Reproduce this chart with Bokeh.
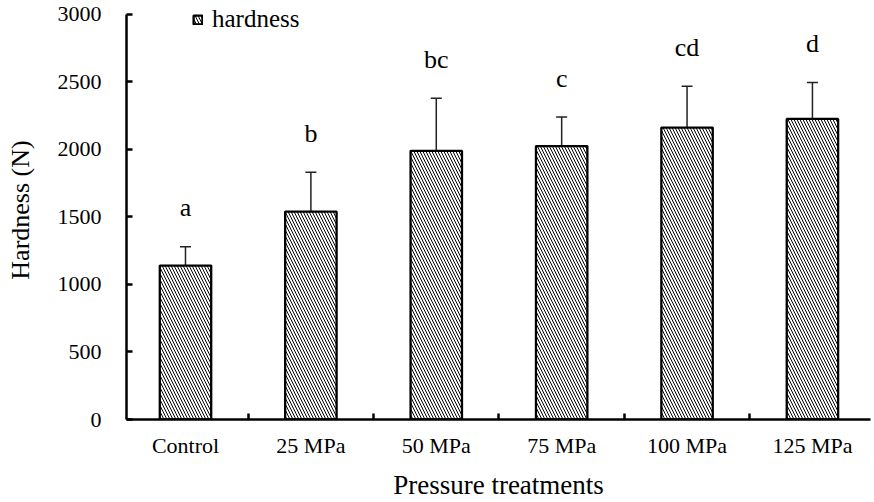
from bokeh.plotting import figure
from bokeh.models import (FixedTicker, Whisker, ColumnDataSource, Legend, LegendItem,
                          Range1d, TeeHead)
from bokeh.core.properties import value
from bokeh.embed import file_html
from bokeh.resources import INLINE

# ---- data ----
categories = ["Control", "25 MPa", "50 MPa", "75 MPa", "100 MPa", "125 MPa"]
hardness = [1140, 1540, 1990, 2025, 2162, 2226]
errors = [140, 292, 390, 215, 307, 270]
letters = ["a", "b", "bc", "c", "cd", "d"]
y_ticks = [0, 500, 1000, 1500, 2000, 2500, 3000]

FONT = "'Liberation Serif'"

n = len(categories)
centers = [i + 0.5 for i in range(n)]
boundaries = [float(i) for i in range(1, n + 1)]

src = ColumnDataSource(dict(
    x=centers,
    top=hardness,
    upper=[h + e for h, e in zip(hardness, errors)],
    lower=[h - e for h, e in zip(hardness, errors)],
    letter=letters,
))

y_max = y_ticks[-1]
# a little headroom above the axis so the legend is not clipped
p = figure(width=874, height=502, output_backend="svg", toolbar_location=None,
           x_range=Range1d(0.0295, 5.963), y_range=Range1d(0, y_max * 421 / 407),
           min_border_left=126, min_border_top=0, min_border_right=4,
           min_border_bottom=81)
p.outline_line_color = None
p.xgrid.visible = False
p.ygrid.visible = False
p.background_fill_color = "white"

bars = p.vbar(x="x", top="top", width=0.41, bottom=0, source=src,
              fill_color="white", line_color="black", line_width=2.3,
              hatch_pattern="left_diagonal_line", hatch_color="black",
              hatch_scale=6, hatch_weight=1.0)

whisk = Whisker(base="x", upper="upper", lower="lower", source=src,
                line_color="#222222", line_width=1.5,
                upper_head=TeeHead(size=11, line_color="#222222", line_width=1.5),
                lower_head=TeeHead(size=11, line_color="#222222", line_width=1.5))
p.add_layout(whisk)

p.text(x="x", y="upper", text="letter", source=src, text_align="center",
       text_baseline="middle", y_offset=-39, text_font=value(FONT),
       text_font_size="26px", text_color="black")

# axes
xa = p.xaxis[0]
xa.ticker = FixedTicker(ticks=centers, minor_ticks=boundaries)
xa.major_label_overrides = {c: lab for c, lab in zip(centers, categories)}
xa.major_tick_line_color = None
xa.minor_tick_in = 6
xa.minor_tick_out = 0
xa.minor_tick_line_width = 2.5
xa.minor_tick_line_color = "black"
xa.axis_line_width = 2.5
xa.axis_line_color = "black"
xa.major_label_text_font = FONT
xa.major_label_text_font_size = "22px"
xa.major_label_text_color = "black"
xa.major_label_standoff = 7
xa.axis_label = "Pressure treatments"
xa.axis_label_text_font = FONT
xa.axis_label_text_font_size = "27px"
xa.axis_label_text_font_style = "normal"
xa.axis_label_text_color = "black"
xa.axis_label_standoff = 9

ya = p.yaxis[0]
ya.ticker = FixedTicker(ticks=y_ticks)
ya.bounds = (0, y_max)
ya.minor_tick_line_color = None
ya.major_tick_in = 6
ya.major_tick_out = 0
ya.major_tick_line_width = 2.5
ya.axis_line_width = 2.5
ya.axis_line_color = "black"
ya.major_label_text_font = FONT
ya.major_label_text_font_size = "22px"
ya.major_label_text_color = "black"
ya.major_label_standoff = 25
ya.axis_label = "Hardness (N)"
ya.axis_label_text_font = FONT
ya.axis_label_text_font_size = "26px"
ya.axis_label_text_font_style = "normal"
ya.axis_label_text_color = "black"
ya.axis_label_standoff = 20

legend = Legend(items=[LegendItem(label="hardness", renderers=[bars])],
                location=(66, 386), glyph_width=11, glyph_height=11,
                label_standoff=9, padding=0, margin=0, spacing=0,
                border_line_color=None, background_fill_alpha=0,
                label_text_font=FONT, label_text_font_size="25px",
                label_text_color="black")
p.add_layout(legend)

open("out.html", "w").write(file_html(p, INLINE))
